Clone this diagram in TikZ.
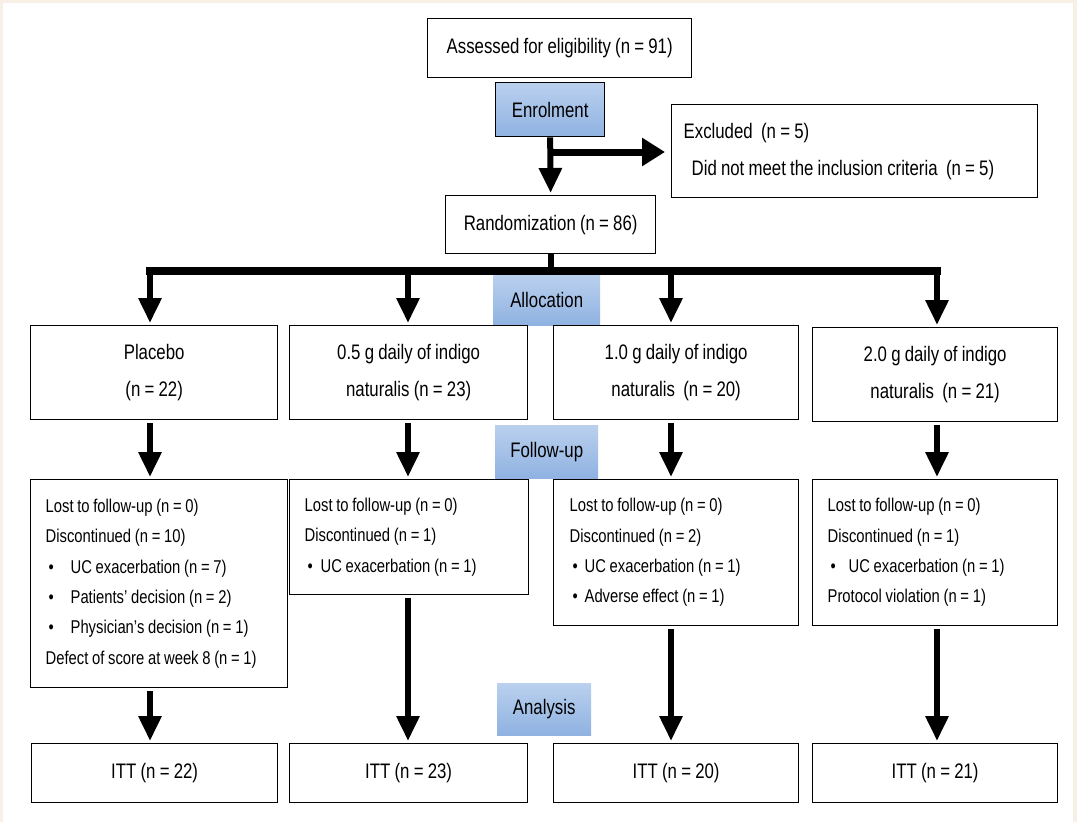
\documentclass[tikz,border=0pt]{standalone}
\usepackage{fontspec}
\setmainfont[FakeStretch=0.8, WordSpace=0.9]{Liberation Sans}
\usetikzlibrary{arrows.meta}
\definecolor{beige}{RGB}{248,240,231}
\definecolor{blueT}{RGB}{186,208,238}
\definecolor{blueB}{RGB}{143,178,225}
\tikzset{
  box/.style={draw, line width=1.3pt, inner sep=0pt, anchor=north west, align=center,
    font=\fontsize{21}{37}\selectfont},
  listbox/.style={draw, line width=1.3pt, inner ysep=0pt, anchor=north west, align=left,
    font=\fontsize{18.5}{30.3}\selectfont, execute at begin node={\spaceskip=0pt\xspaceskip=0pt\relax}},
  stage/.style={inner sep=0pt, anchor=north west, top color=blueT, bottom color=blueB,
    font=\fontsize{21}{25}\selectfont},
  arr/.style={line width=6pt, -{Triangle[width=22pt,length=25pt]}, shorten >=2pt, shorten <=3pt},
  barline/.style={line width=8pt, line cap=rect},
}
\newcommand{\bl}[2]{\makebox[#1][l]{\hspace{3pt}\textbullet}#2}
\begin{document}
\begin{tikzpicture}[x=1pt,y=-1pt]
\fill[beige] (0,0) rectangle (1077,822);
\fill[white] (3,3) rectangle (1073,822);
\useasboundingbox (0,0) rectangle (1077,822);

% top part
\node[box, minimum width=264pt, minimum height=59pt] (assess) at (427,18) {Assessed for eligibility (n = 91)};
\node[stage, draw=black, line width=1.3pt, minimum width=109pt, minimum height=54pt] (enrol) at (495,82) {Enrolment};
\node[box, align=left, text width=342pt, inner xsep=12pt, minimum height=93pt,
  execute at begin node={\spaceskip=0pt\xspaceskip=0pt\relax}] (excl) at (671,104)
  {Excluded\ \ (n = 5)\\\hspace*{8pt}Did not meet the inclusion criteria\ \ (n = 5)};
\node[box, minimum width=210pt, minimum height=58pt] (rand) at (445,195) {Randomization (n = 86)};

% stage labels
\node[stage, minimum width=107pt, minimum height=50pt] (alloc) at (493,275) {Allocation};
\node[stage, minimum width=103pt, minimum height=53pt] (follow) at (495,425) {Follow-up};
\node[stage, minimum width=94pt, minimum height=52pt] (analysis) at (497,683) {Analysis};

% allocation row
\node[box, minimum width=247pt, minimum height=94pt] (a1) at (30,325) {Placebo\\(n = 22)};
\node[box, minimum width=238pt, minimum height=94pt] (a2) at (289,325) {0.5 g daily of indigo\\naturalis (n = 23)};
\node[box, minimum width=245pt, minimum height=94pt] (a3) at (553,325) {1.0 g daily of indigo\\naturalis\ \ (n = 20)};
\node[box, minimum width=245pt, minimum height=94pt] (a4) at (812,327) {2.0 g daily of indigo\\naturalis\ \ (n = 21)};

% follow-up row
\node[listbox, inner xsep=15pt, text width=227pt, minimum height=208pt] (f1) at (30,479)
  {Lost to follow-up (n = 0)\\Discontinued (n = 10)\\\bl{25pt}{UC exacerbation (n = 7)}\\
   \bl{25pt}{Patients' decision (n = 2)}\\\bl{25pt}{Physician's decision (n = 1)}\\\mbox{Defect of score at week 8 (n = 1)}};
\node[listbox, inner xsep=15pt, text width=209pt, minimum height=115pt] (f2) at (289,479)
  {Lost to follow-up (n = 0)\\Discontinued (n = 1)\\\bl{16pt}{UC exacerbation (n = 1)}};
\node[listbox, inner xsep=16pt, text width=213pt, minimum height=146pt] (f3) at (553,479)
  {Lost to follow-up (n = 0)\\Discontinued (n = 2)\\\bl{15pt}{UC exacerbation (n = 1)}\\\bl{15pt}{Adverse effect (n = 1)}};
\node[listbox, inner xsep=15pt, text width=215pt, minimum height=146pt] (f4) at (812,479)
  {Lost to follow-up (n = 0)\\Discontinued (n = 1)\\\bl{21pt}{UC exacerbation (n = 1)}\\Protocol violation (n = 1)};

% analysis row
\node[box, minimum width=246pt, minimum height=59pt] (i1) at (31,743) {ITT (n = 22)};
\node[box, minimum width=238pt, minimum height=59pt] (i2) at (289,743) {ITT (n = 23)};
\node[box, minimum width=245pt, minimum height=59pt] (i3) at (553,743) {ITT (n = 20)};
\node[box, minimum width=245pt, minimum height=59pt] (i4) at (812,743) {ITT (n = 21)};

% column coordinates
\coordinate (c1) at (150,271);
\coordinate (c2) at (408,271);
\coordinate (c3) at (671,271);
\coordinate (c4) at (937,271);
\coordinate (ex0) at (550,152);

% connectors
\draw[arr, shorten <=0pt] (enrol.south) -- (rand.north);
\draw[line width=7pt, -{Triangle[width=27pt,length=23pt]}, shorten >=6pt] (ex0) -- (excl.west |- ex0);
\draw[line width=6pt] (rand.south) -- (rand.south |- c1);
\draw[barline] (c1) -- (c4);
\foreach \c/\a in {c1/a1, c2/a2, c3/a3, c4/a4}{
  \draw[arr, shorten <=0pt] (\c) -- (\a.north -| \c);
}
\foreach \c/\a/\f in {c1/a1/f1, c2/a2/f2, c3/a3/f3, c4/a4/f4}{
  \draw[arr] (\a.south -| \c) -- (\f.north -| \c);
}
\foreach \c/\f/\i in {c1/f1/i1, c2/f2/i2, c3/f3/i3, c4/f4/i4}{
  \draw[arr] (\f.south -| \c) -- (\i.north -| \c);
}
\end{tikzpicture}
\end{document}
